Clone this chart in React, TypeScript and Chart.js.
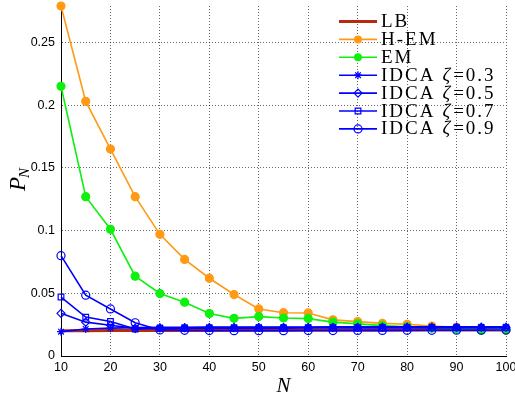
import React, { useEffect, useRef } from 'react';
import { Chart, registerables } from 'chart.js';

Chart.register(...registerables);

const nValues = [10, 15, 20, 25, 30, 35, 40, 45, 50, 55, 60, 65, 70, 75, 80, 85, 90, 95, 100];
const lbValues = [0.0201, 0.0202, 0.0203, 0.0203, 0.0204, 0.0204, 0.0204, 0.0205, 0.0205, 0.0205, 0.0205, 0.0206, 0.0206, 0.0206, 0.0206, 0.0207, 0.0207, 0.0207, 0.0207];
const hemValues = [0.279, 0.203, 0.165, 0.127, 0.097, 0.077, 0.062, 0.049, 0.0375, 0.0345, 0.0343, 0.0288, 0.0274, 0.026, 0.0253, 0.0238, 0.0228, 0.0218, 0.0205];
const emValues = [0.215, 0.127, 0.101, 0.0636, 0.0498, 0.0429, 0.0338, 0.030, 0.0314, 0.0303, 0.0298, 0.027, 0.0256, 0.0242, 0.0232, 0.0222, 0.0215, 0.0205, 0.021];
const idca03Values = [0.0194, 0.0215, 0.0222, 0.0226, 0.0228, 0.0229, 0.023, 0.023, 0.0231, 0.0231, 0.0231, 0.0232, 0.0232, 0.0232, 0.0233, 0.0233, 0.0233, 0.0233, 0.0233];
const idca05Values = [0.034, 0.027, 0.0245, 0.022, 0.0224, 0.0225, 0.0226, 0.0226, 0.0227, 0.0227, 0.0227, 0.0228, 0.0228, 0.0228, 0.0228, 0.0228, 0.0229, 0.0229, 0.0229];
const idca07Values = [0.047, 0.031, 0.0275, 0.0215, 0.022, 0.0221, 0.0221, 0.0222, 0.0222, 0.0222, 0.0223, 0.0223, 0.0223, 0.0223, 0.0224, 0.0224, 0.0224, 0.0224, 0.0224];
const idca09Values = [0.080, 0.0485, 0.0375, 0.0265, 0.0208, 0.0205, 0.0203, 0.0202, 0.0202, 0.0202, 0.0203, 0.0203, 0.0204, 0.0204, 0.0205, 0.0205, 0.0206, 0.0206, 0.0207];

const xTickValues = [10, 20, 30, 40, 50, 60, 70, 80, 90, 100];
const yTickValues = [0, 0.05, 0.1, 0.15, 0.2, 0.25];
const yTickLabels = ['0', '0.05', '0.1', '0.15', '0.2', '0.25'];

const seriesLabels = ['LB', 'H-EM', 'EM', 'IDCA ζ=0.3', 'IDCA ζ=0.5', 'IDCA ζ=0.7', 'IDCA ζ=0.9'];
const seriesValues = [lbValues, hemValues, emValues, idca03Values, idca05Values, idca07Values, idca09Values];
const seriesColors = ['#b62b10', '#ff9a14', '#0ef00e', '#0000ff', '#0000ff', '#0000ff', '#0000ff'];
const seriesMarkers = ['none', 'circle', 'circle', 'star', 'rectRot', 'rect', 'circle'];
const seriesFilled = [false, true, true, false, false, false, false];
const seriesWidths = [3, 1.6, 1.6, 1.6, 1.6, 1.6, 1.6];

function drawMarker(ctx: CanvasRenderingContext2D, style: string, x: number, y: number, r: number, color: string, filled: boolean) {
  if (style === 'none') return;
  ctx.save();
  ctx.strokeStyle = color;
  ctx.fillStyle = color;
  ctx.lineWidth = 1.2;
  ctx.setLineDash([]);
  ctx.beginPath();
  if (style === 'circle') {
    ctx.arc(x, y, r, 0, Math.PI * 2);
    if (filled) ctx.fill(); else ctx.stroke();
  } else if (style === 'rect') {
    const s = r * Math.SQRT1_2;
    ctx.rect(x - s, y - s, 2 * s, 2 * s);
    ctx.stroke();
  } else if (style === 'rectRot') {
    ctx.moveTo(x - r, y);
    ctx.lineTo(x, y - r);
    ctx.lineTo(x + r, y);
    ctx.lineTo(x, y + r);
    ctx.closePath();
    ctx.stroke();
  } else if (style === 'star') {
    for (let k = 0; k < 4; k++) {
      const a = (k * Math.PI) / 4;
      ctx.moveTo(x - Math.cos(a) * r, y - Math.sin(a) * r);
      ctx.lineTo(x + Math.cos(a) * r, y + Math.sin(a) * r);
    }
    ctx.stroke();
  }
  ctx.restore();
}

const decorPlugin = {
  id: 'decor',
  afterDraw(chart: any) {
    const { ctx, chartArea } = chart;
    ctx.save();
    ctx.fillStyle = '#000';
    // x title
    ctx.font = 'italic 21px "Liberation Serif"';
    ctx.textAlign = 'center';
    ctx.textBaseline = 'alphabetic';
    ctx.fillText('N', (chartArea.left + chartArea.right) / 2, chartArea.bottom + 36);
    // y title P_N
    ctx.save();
    const cy = (chartArea.top + chartArea.bottom) / 2;
    ctx.translate(25, cy - 2);
    ctx.rotate(-Math.PI / 2);
    ctx.textAlign = 'left';
    ctx.font = 'italic 23px "Liberation Serif"';
    const pw = ctx.measureText('P').width;
    ctx.font = 'italic 15px "Liberation Serif"';
    const nw = ctx.measureText('N').width;
    const start = -(pw + nw) / 2;
    ctx.font = 'italic 23px "Liberation Serif"';
    ctx.fillText('P', start, 0);
    ctx.font = 'italic 15px "Liberation Serif"';
    ctx.fillText('N', start + pw - 1, 4);
    ctx.restore();

    // legend
    const x0 = chartArea.right - 167;
    const lineLen = 38;
    const textX = x0 + lineLen + 4;
    for (let i = 0; i < seriesLabels.length; i++) {
      const base = chartArea.top + 21 + i * 17.9;
      const ly = base - 5.5;
      ctx.save();
      ctx.strokeStyle = seriesColors[i];
      ctx.lineWidth = seriesWidths[i];
      ctx.beginPath();
      ctx.moveTo(x0, ly);
      ctx.lineTo(x0 + lineLen, ly);
      ctx.stroke();
      ctx.restore();
      drawMarker(ctx, seriesMarkers[i], x0 + lineLen / 2, ly, 4, seriesColors[i], seriesFilled[i]);
      ctx.fillStyle = '#000';
      ctx.textAlign = 'left';
      ctx.textBaseline = 'alphabetic';
      (ctx as any).letterSpacing = '2px';
      const parts = seriesLabels[i].split('ζ');
      ctx.font = '19px "Liberation Serif"';
      ctx.fillText(parts[0].trim(), textX, base);
      if (parts.length > 1) {
        let x = textX + ctx.measureText(parts[0].trim()).width + 7;
        ctx.font = 'italic 19px "Liberation Serif"';
        ctx.fillText('ζ', x, base);
        x += ctx.measureText('ζ').width + 1;
        ctx.font = '19px "Liberation Serif"';
        ctx.fillText(parts[1], x, base);
      }
      (ctx as any).letterSpacing = '0px';
    }
    ctx.restore();
  },
};

export default function App() {
  const canvasRef = useRef<HTMLCanvasElement | null>(null);

  useEffect(() => {
    const canvas = canvasRef.current;
    if (!canvas) return;
    const datasets = seriesLabels.map((label, i) => ({
      label,
      data: nValues.map((x, j) => ({ x, y: seriesValues[i][j] })),
      borderColor: seriesColors[i],
      backgroundColor: seriesColors[i],
      borderWidth: seriesWidths[i],
      pointStyle: seriesMarkers[i] === 'none' ? 'circle' : seriesMarkers[i],
      pointRadius: seriesMarkers[i] === 'none' ? 0 : 4,
      pointBorderWidth: 1.2,
      pointBorderColor: seriesColors[i],
      pointBackgroundColor: seriesFilled[i] ? seriesColors[i] : 'rgba(0,0,0,0)',
      tension: 0,
      clip: false,
      order: seriesLabels.length - i,
    }));

    const chart = new Chart(canvas, {
      type: 'line',
      data: { datasets },
      options: {
        responsive: false,
        animation: false,
        devicePixelRatio: 1,
        layout: { padding: { top: 6, right: 9, bottom: 0, left: 0 } },
        plugins: { legend: { display: false }, tooltip: { enabled: false } },
        scales: {
          x: {
            type: 'linear',
            min: 10,
            max: 100,
            afterBuildTicks: (scale: any) => {
              scale.ticks = xTickValues.map((v) => ({ value: v }));
            },
            afterFit: (scale: any) => {
              scale.height = 42;
              scale.paddingLeft = 0;
              scale.paddingRight = 0;
            },
            ticks: {
              font: { family: '"Liberation Sans"', size: 12.5 },
              color: '#000',
              padding: 4,
              maxRotation: 0,
              callback: (v: any) => String(v),
            },
            grid: { color: 'rgba(0,0,0,0.6)', lineWidth: 1, drawTicks: false },
            border: { display: true, color: '#000', width: 1, dash: [1, 2] },
          },
          y: {
            type: 'linear',
            min: 0,
            max: 0.279,
            afterBuildTicks: (scale: any) => {
              scale.ticks = yTickValues.map((v) => ({ value: v }));
            },
            afterFit: (scale: any) => {
              scale.width = 61;
              scale.paddingTop = 0;
              scale.paddingBottom = 0;
            },
            ticks: {
              font: { family: '"Liberation Sans"', size: 12.5 },
              color: '#000',
              padding: 6,
              callback: (v: any, idx: number) => yTickLabels[idx] ?? String(v),
            },
            grid: { color: 'rgba(0,0,0,0.6)', lineWidth: 1, drawTicks: false },
            border: { display: true, color: '#000', width: 1, dash: [1, 2] },
          },
        },
      },
      plugins: [decorPlugin],
    } as any);
    return () => chart.destroy();
  }, []);

  return (
    <canvas
      ref={canvasRef}
      width={515}
      height={398}
      style={{ position: 'absolute', left: 0, top: 0, width: 515, height: 398, display: 'block', background: '#fff' }}
    />
  );
}
